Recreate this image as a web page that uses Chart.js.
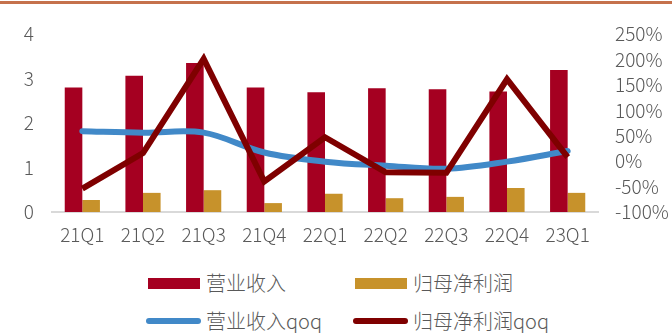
<!DOCTYPE html>
<html>
<head>
<meta charset="utf-8">
<script src="https://cdn.jsdelivr.net/npm/chart.js@4.4.0/dist/chart.umd.min.js"></script>
<style>
  body { margin: 0; background: #fff; }
  #wrap { position: relative; width: 672px; height: 333px; overflow: hidden; }
  #topline { position: absolute; left: 0; top: 1px; width: 672px; height: 3px; background: #C5714C; }
  #chartBox { position: absolute; left: 0; top: 0; width: 672px; height: 255px; }
  .legend { position: absolute; font-family: "Noto Sans CJK SC", sans-serif; font-weight: 300; font-size: 20px; color: #595959; }
  .item { position: absolute; white-space: nowrap; }
  .sw { position: absolute; }
  .txt { position: absolute; line-height: 24px; }
</style>
</head>
<body>
<div id="wrap">
  <div id="topline"></div>
  <div id="chartBox"><canvas id="chart" width="672" height="255"></canvas></div>
  <div class="legend" id="legend"></div>
</div>
<script>
const categories = ['21Q1', '21Q2', '21Q3', '21Q4', '22Q1', '22Q2', '22Q3', '22Q4', '23Q1'];
const revenue = [2.80, 3.06, 3.35, 2.80, 2.69, 2.78, 2.76, 2.71, 3.19];
const netProfit = [0.27, 0.43, 0.49, 0.20, 0.41, 0.31, 0.34, 0.54, 0.43];
const revenueQoq = [59, 56, 56, 17, -1, -9, -15, -1, 20];
const netProfitQoq = [-54, 16, 201, -40, 47, -22, -23, 161, 8];
const leftTicks = [0, 1, 2, 3, 4];
const rightTicks = [-100, -50, 0, 50, 100, 150, 200, 250];

const labelNames = ['营业收入', '归母净利润', '营业收入qoq', '归母净利润qoq'];
const colors = ['#A50021', '#C7922B', '#4189C8', '#7F0000'];

const tickFont = { family: '"Noto Sans CJK SC", sans-serif', size: 19, weight: 300 };

const ctx = document.getElementById('chart').getContext('2d');
new Chart(ctx, {
  data: {
    labels: categories,
    datasets: [
      {
        type: 'line', label: labelNames[3], data: netProfitQoq, yAxisID: 'y1',
        borderColor: colors[3], borderWidth: 6, pointRadius: 0, tension: 0,
        borderJoinStyle: 'miter', order: 0
      },
      {
        type: 'line', label: labelNames[2], data: revenueQoq, yAxisID: 'y1',
        borderColor: colors[2], borderWidth: 6, pointRadius: 0, tension: 0.35,
        borderCapStyle: 'round', order: 1
      },
      {
        type: 'bar', label: labelNames[0], data: revenue, yAxisID: 'y',
        backgroundColor: colors[0], barPercentage: 1, categoryPercentage: 0.58, order: 2
      },
      {
        type: 'bar', label: labelNames[1], data: netProfit, yAxisID: 'y',
        backgroundColor: colors[1], barPercentage: 1, categoryPercentage: 0.58, order: 2
      }
    ]
  },
  options: {
    responsive: false,
    animation: false,
    layout: { padding: { top: 34, left: 0, right: 0, bottom: 0 } },
    plugins: { legend: { display: false }, tooltip: { enabled: false } },
    scales: {
      x: {
        grid: { display: false, drawTicks: false },
        border: { display: true, color: '#D9D9D9', width: 2 },
        ticks: { color: '#595959', font: tickFont, padding: 11, maxRotation: 0, autoSkip: false },
        afterFit: s => { s.height = 43; }
      },
      y: {
        position: 'left', min: 0, max: 4,
        afterBuildTicks: s => { s.ticks = leftTicks.map(v => ({ value: v })); },
        grid: { display: false, drawTicks: false },
        border: { display: false },
        ticks: { color: '#595959', font: tickFont, padding: 18, autoSkip: false },
        afterFit: s => { s.width = 52; }
      },
      y1: {
        position: 'right', min: -100, max: 250,
        afterBuildTicks: s => { s.ticks = rightTicks.map(v => ({ value: v })); },
        grid: { display: false, drawTicks: false },
        border: { display: false },
        ticks: { color: '#595959', font: tickFont, padding: 17, autoSkip: false, callback: v => v + '%' },
        afterFit: s => { s.width = 74; }
      }
    }
  }
});

// legend
const legend = document.getElementById('legend');
const items = [
  { x: 148, y: 283, kind: 'box' },
  { x: 355, y: 283, kind: 'box' },
  { x: 148, y: 321, kind: 'line' },
  { x: 355, y: 321, kind: 'line' }
];
items.forEach((it, i) => {
  const el = document.createElement('div');
  el.className = 'item';
  const sw = document.createElement('div');
  sw.className = 'sw';
  sw.style.background = colors[i];
  if (it.kind === 'box') {
    sw.style.left = it.x + 'px'; sw.style.top = (it.y - 5) + 'px';
    sw.style.width = '52px'; sw.style.height = '11px';
  } else {
    sw.style.left = (it.x - 2) + 'px'; sw.style.top = (it.y - 3) + 'px';
    sw.style.width = '55px'; sw.style.height = '6px'; sw.style.borderRadius = '3px';
  }
  const t = document.createElement('div');
  t.className = 'txt';
  t.textContent = labelNames[i];
  t.style.left = (it.x + 58) + 'px';
  t.style.top = (it.y - 12) + 'px';
  el.appendChild(sw);
  el.appendChild(t);
  legend.appendChild(el);
});
</script>
</body>
</html>
